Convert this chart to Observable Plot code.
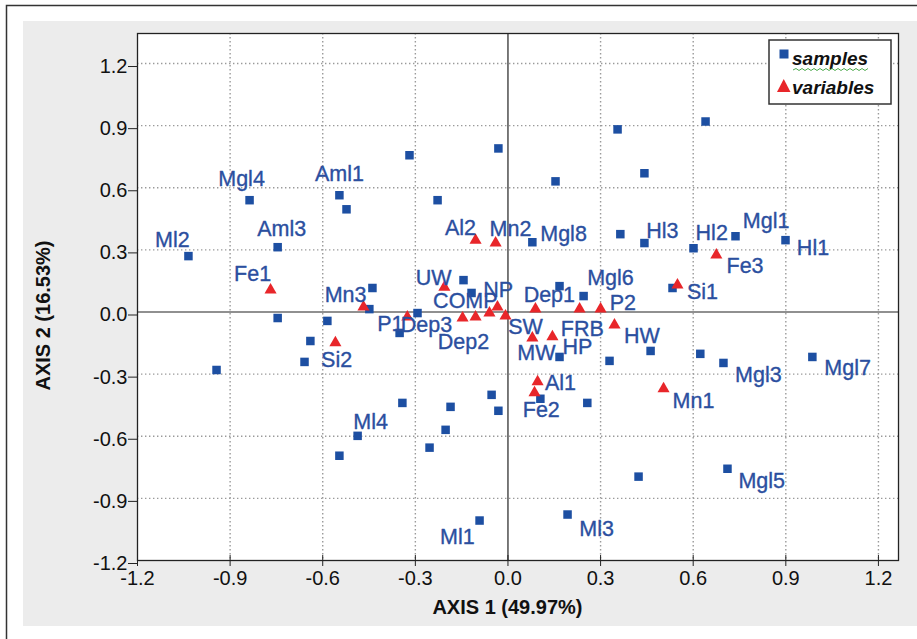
<!DOCTYPE html>
<html>
<head>
<meta charset="utf-8">
<script src="https://cdn.jsdelivr.net/npm/d3@7"></script>
<script src="https://cdn.jsdelivr.net/npm/@observablehq/plot@0.6"></script>
<style>
  html, body { margin: 0; padding: 0; background: #fff; }
  #chart { width: 917px; height: 639px; }
</style>
</head>
<body>
<div id="chart"></div>
<script>
// ---- data ----
const sampleX = [-1.035,-0.837,-0.546,-0.523,-0.746,-0.319,-0.031,-0.228,0.154,0.355,0.640,0.442,0.079,0.364,0.442,0.601,0.737,0.899,
  -0.439,-0.144,-0.118,0.167,0.245,0.533,-0.449,-0.293,-0.746,-0.585,-0.351,-0.640,-0.659,-0.944,0.167,0.329,0.462,0.623,0.698,0.986,
  -0.342,-0.186,-0.202,-0.254,-0.053,-0.031,0.105,0.257,-0.487,-0.546,0.423,0.711,-0.092,0.193];
const sampleY = [0.270,0.540,0.564,0.496,0.313,0.757,0.790,0.540,0.631,0.882,0.920,0.670,0.337,0.376,0.333,0.308,0.366,0.347,
  0.116,0.154,0.092,0.125,0.077,0.116,0.014,-0.005,-0.029,-0.043,-0.101,-0.140,-0.241,-0.280,-0.217,-0.236,-0.188,-0.202,-0.246,-0.217,
  -0.439,-0.458,-0.569,-0.655,-0.400,-0.477,-0.419,-0.439,-0.598,-0.694,-0.795,-0.757,-1.007,-0.978];

const varNames = ["Fe1","Mn3","P1","Dep3","Dep2","COMP","NP","SW","UW","Al2","Mn2","Dep1","FRB","P2","HW","MW","HP","Al1","Fe2","Mn1","Si1","Fe3","Si2"];
const varX = [-0.769,-0.468,-0.326,-0.147,-0.105,-0.060,-0.034,-0.008,-0.206,-0.105,-0.040,0.089,0.232,0.300,0.345,0.079,0.144,0.096,0.086,0.504,0.549,0.675,-0.559];
const varY = [0.106,0.024,-0.024,-0.029,-0.024,-0.005,0.024,-0.019,0.120,0.347,0.333,0.014,0.014,0.014,-0.063,-0.125,-0.120,-0.337,-0.390,-0.371,0.130,0.275,-0.149];

const labelText = ["Ml2","Mgl4","Aml1","Aml3","Fe1","Mn3","P1","Dep3","Dep2","COMP","NP","UW","SW","Al2","Mn2","Mgl8","Dep1","Mgl6","P2","FRB","HP","MW","HW","Al1","Fe2","Mn1","Si1","Fe3","Hl3","Hl2","Mgl1","Hl1","Mgl3","Mgl7","Mgl5","Si2","Ml4","Ml1","Ml3"];
const labelX = [-1.087,-0.863,-0.546,-0.733,-0.827,-0.526,-0.381,-0.264,-0.144,-0.138,-0.032,-0.241,0.057,-0.154,0.008,0.180,0.134,0.332,0.372,0.241,0.225,0.092,0.434,0.170,0.108,0.601,0.630,0.768,0.500,0.660,0.836,0.988,0.811,1.100,0.822,-0.555,-0.445,-0.164,0.287];
const labelY = [0.347,0.641,0.667,0.398,0.183,0.084,-0.058,-0.065,-0.147,0.053,0.108,0.164,-0.075,0.405,0.400,0.376,0.080,0.166,0.041,-0.084,-0.169,-0.200,-0.116,-0.345,-0.472,-0.431,0.096,0.222,0.390,0.383,0.441,0.311,-0.304,-0.272,-0.817,-0.234,-0.533,-1.087,-1.048];

const xTicks = [-1.2,-0.9,-0.6,-0.3,0.0,0.3,0.6,0.9,1.2];
const yTicks = [-1.2,-0.9,-0.6,-0.3,0.0,0.3,0.6,0.9,1.2];
const gridValues = [-0.9,-0.6,-0.3,0.3,0.6,0.9,1.2];
const xTitle = "AXIS 1 (49.97%)";
const yTitle = "AXIS 2 (16.53%)";
const legendNames = ["samples","variables"];

// ---- tables built from arrays ----
const samples = sampleX.map((x, i) => ({x, y: sampleY[i]}));
const variables = varNames.map((n, i) => ({name: n, x: varX[i], y: varY[i]}));
const labels = labelText.map((t, i) => ({text: t, x: labelX[i], y: labelY[i]}));

const BLUE = "#1d4fa2";
const LABEL = "#2b4f9f";
const RED = "#e8262a";
const FONT = "'Liberation Sans', Arial, Helvetica, sans-serif";

const plot = Plot.plot({
  width: 917,
  height: 639,
  marginLeft: 137,
  marginRight: 19,
  marginTop: 33,
  marginBottom: 79,
  style: {fontFamily: FONT, fontSize: "20px", background: "transparent", overflow: "visible"},
  x: {domain: [-1.2, 1.265]},
  y: {domain: [-1.2, 1.345]},
  marks: [
    Plot.frame({fill: "white", stroke: null}),
    Plot.gridX(gridValues, {stroke: "#9a9a9a", strokeOpacity: 1, strokeWidth: 1.4, strokeDasharray: "1.4,2.6"}),
    Plot.gridY(gridValues, {stroke: "#9a9a9a", strokeOpacity: 1, strokeWidth: 1.4, strokeDasharray: "1.4,2.6"}),
    Plot.ruleX([0], {stroke: "#222", strokeWidth: 1.2}),
    Plot.ruleY([0], {stroke: "#222", strokeWidth: 1.2}),
    Plot.frame({stroke: "#222", strokeWidth: 1.3}),
    Plot.dot(samples, {x: "x", y: "y", symbol: "square", r: 4.8, fill: BLUE, stroke: null}),
    Plot.dot(variables, {x: "x", y: "y", symbol: "triangle", r: 4.5, fill: RED, stroke: null}),
    Plot.text(labels, {x: "x", y: "y", text: "text", fill: LABEL, stroke: LABEL, strokeWidth: 0.35, fontSize: 21.5, fontFamily: FONT, lineAnchor: "middle"}),
    Plot.axisY(yTicks, {tickSize: 9, tickPadding: 1, dy: 3, fontSize: 20, fill: "#111", stroke: "#222", tickFormat: d => d.toFixed(1), label: null}),
    Plot.axisX(xTicks, {tickSize: 6, tickPadding: 4, fontSize: 20, fill: "#111", stroke: "#222", tickFormat: d => d.toFixed(1), label: null})
  ]
});

const svg = d3.select(plot);
// background panel and outer border (behind everything)
const bg = svg.insert("g", ":first-child");
bg.append("rect").attr("x", 0).attr("y", 0).attr("width", 917).attr("height", 639).attr("fill", "#fff");
bg.append("rect").attr("x", 23).attr("y", 21).attr("width", 894).attr("height", 605).attr("fill", "#ececec");
bg.append("path").attr("d", "M6.5,639V5.5H917").attr("fill", "none").attr("stroke", "#333").attr("stroke-width", 1.5);

// extend x ticks inward a little
svg.selectAll('g[aria-label="x-axis tick"] path').attr("d", "M0,-5L0,6");

const sx = plot.scale("x"), sy = plot.scale("y");
// axis titles
svg.append("text").attr("x", sx.apply(0)).attr("y", 614).attr("text-anchor", "middle")
  .attr("font-family", FONT).attr("font-weight", "bold").attr("font-size", 20).attr("fill", "#111").text(xTitle);
svg.append("text").attr("transform", `translate(50,${sy.apply(0) + 4}) rotate(-90)`).attr("text-anchor", "middle")
  .attr("font-family", FONT).attr("font-weight", "bold").attr("font-size", 20).attr("fill", "#111").text(yTitle);

// legend
const lg = svg.append("g").attr("text-anchor", "start");
lg.append("rect").attr("x", 769).attr("y", 40).attr("width", 122).attr("height", 64)
  .attr("fill", "white").attr("stroke", "#333").attr("stroke-width", 1.5);
lg.append("rect").attr("x", 779.5).attr("y", 49.5).attr("width", 9).attr("height", 9).attr("fill", BLUE);
lg.append("path").attr("d", "M777,92L790.5,92L783.75,79Z").attr("fill", RED);
lg.append("text").attr("x", 792).attr("y", 65).attr("text-anchor", "start").attr("font-family", FONT).attr("font-weight", "bold")
  .attr("font-style", "italic").attr("font-size", 19).attr("fill", "#111").text(legendNames[0]);
lg.append("text").attr("x", 792).attr("y", 94).attr("text-anchor", "start").attr("font-family", FONT).attr("font-weight", "bold")
  .attr("font-style", "italic").attr("font-size", 19).attr("fill", "#111").text(legendNames[1]);
// green squiggle under "samples"
let zz = "M793,70";
for (let i = 1; i <= 25; i++) zz += `L${793 + i * 3},${i % 2 ? 68.5 : 70.5}`;
lg.append("path").attr("d", zz).attr("fill", "none").attr("stroke", "#3aa03a").attr("stroke-width", 0.9);

document.getElementById("chart").appendChild(plot);
</script>
</body>
</html>
